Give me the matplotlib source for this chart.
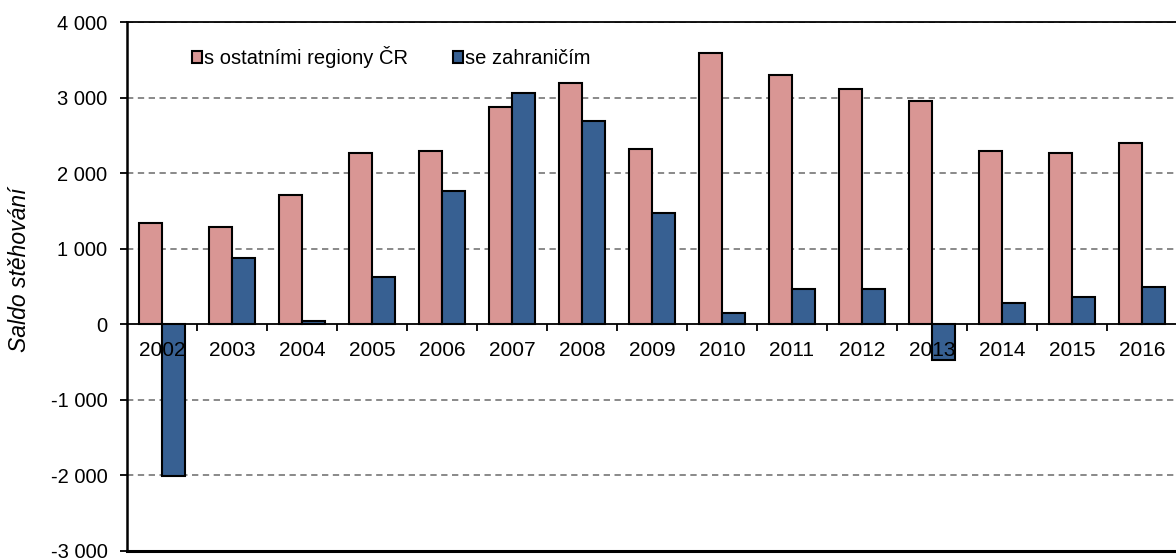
import matplotlib
matplotlib.use("Agg")
import matplotlib.pyplot as plt
import numpy as np
from matplotlib.ticker import FuncFormatter, FixedLocator

plt.rcParams['font.family'] = ['Liberation Sans', 'DejaVu Sans']

years = ["2002", "2003", "2004", "2005", "2006", "2007", "2008", "2009",
         "2010", "2011", "2012", "2013", "2014", "2015", "2016"]
domestic = [1340, 1286, 1711, 2268, 2294, 2878, 3192, 2321,
            3590, 3298, 3117, 2958, 2294, 2268, 2401]
foreign = [-2011, 871, 49, 632, 1764, 3060, 2688, 1476,
           155, 468, 468, -477, 288, 367, 500]
series_names = ["s ostatními regiony ČR", "se zahraničím"]
y_ticks = [-3000, -2000, -1000, 0, 1000, 2000, 3000, 4000]

W, H = 1176, 559
fig = plt.figure(figsize=(W / 100, H / 100), dpi=100)
left, right, top, bottom = 127, 1177, 22, 551
ax = fig.add_axes([left / W, 1 - bottom / H, (right - left) / W, (bottom - top) / H])
ax.set_axisbelow(False)

x = np.arange(len(years))
bw = 0.33
ax.bar(x - bw / 2, domestic, bw, color="#D99694", edgecolor="black", linewidth=1.5,
       label=series_names[0], zorder=2)
ax.bar(x + bw / 2, foreign, bw, color="#376092", edgecolor="black", linewidth=1.5,
       label=series_names[1], zorder=2)

ax.set_xlim(-0.5, len(years) - 0.5)
ax.set_ylim(-3000, 4000)

# grid
for v in y_ticks:
    if v in (0, -3000):
        continue
    ax.axhline(v, color="#808080", linewidth=1.3, linestyle=(0, (3.5, 2.5)), zorder=1)

# y axis
ax.set_yticks(y_ticks)
ax.yaxis.set_major_formatter(FuncFormatter(lambda v, p: f"{int(v):,}".replace(",", " ")))
ax.tick_params(axis="y", direction="out", length=5, width=1.3, pad=9, labelsize=14.5,
               colors="black")

# x axis at zero
ax.spines["bottom"].set_position(("data", 0))
ax.spines["bottom"].set_linewidth(1.3)
ax.spines["left"].set_linewidth(1.8)
ax.spines["top"].set_linewidth(1.3)
ax.spines["right"].set_visible(False)
ax.xaxis.set_major_locator(FixedLocator(np.arange(0.5, len(years), 1.0)))
ax.xaxis.set_minor_locator(FixedLocator(x))
ax.tick_params(axis="x", which="major", direction="out", length=5, width=1.3, labelbottom=False)
ax.set_xticklabels(years, minor=True)
ax.tick_params(axis="x", which="minor", length=0, pad=12, labelsize=15)
ax.axhline(-3000, color="black", linewidth=2.2, clip_on=False, zorder=4)

fig.text(20 / W, 1 - 270 / H, "Saldo stěhování", rotation=90, style="italic",
         fontsize=16.5, ha="center", va="center")

leg = ax.legend(loc="center left", bbox_to_anchor=(192 / W, 1 - 57 / H),
                bbox_transform=fig.transFigure, ncol=2, frameon=False,
                fontsize=14.5, handlelength=0.5, handleheight=0.5, handletextpad=0.12,
                columnspacing=2.2, borderpad=0, borderaxespad=0)

fig.savefig("out.png", dpi=100)
